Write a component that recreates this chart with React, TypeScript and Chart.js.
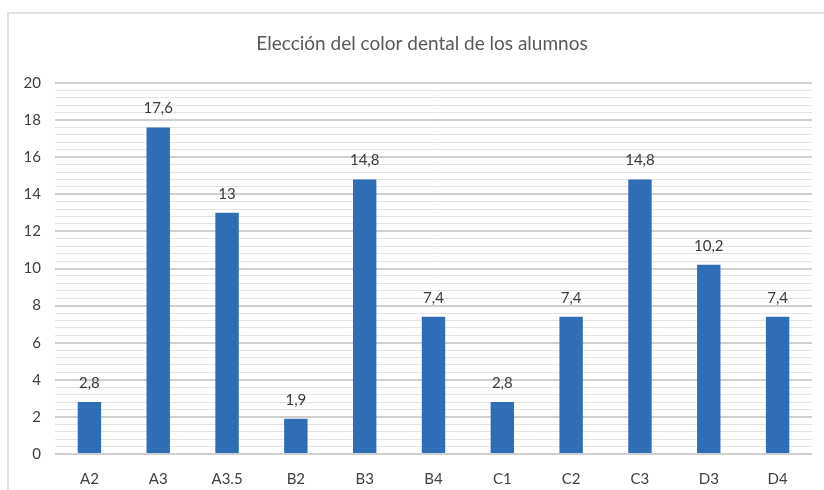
import React, { useEffect, useRef } from "react";
import { Chart, registerables } from "chart.js";

Chart.register(...registerables);

const titleText = "Elección del color dental de los alumnos";
const categories = ["A2", "A3", "A3.5", "B2", "B3", "B4", "C1", "C2", "C3", "D3", "D4"];
const values = [2.8, 17.6, 13, 1.9, 14.8, 7.4, 2.8, 7.4, 14.8, 10.2, 7.4];
const valueLabels = ["2,8", "17,6", "13", "1,9", "14,8", "7,4", "2,8", "7,4", "14,8", "10,2", "7,4"];
const yMax = 20;
const yMajorStep = 2;
const yMinorStep = 0.4;

const isMajor = (v: number) => Math.abs(v / yMajorStep - Math.round(v / yMajorStep)) < 1e-6;

const labelPlugin = {
  id: "valueLabels",
  afterDatasetsDraw(chart: any) {
    const ctx = chart.ctx;
    const meta = chart.getDatasetMeta(0);
    ctx.save();
    ctx.fillStyle = "#3a3a3a";
    ctx.font = "15px Lato";
    ctx.textAlign = "center";
    ctx.textBaseline = "middle";
    meta.data.forEach((bar: any, i: number) => {
      ctx.fillText(valueLabels[i], bar.x, bar.y - 19);
    });
    ctx.fillStyle = "#595959";
    ctx.font = "19px Lato";
    ctx.fillText(titleText, 422, 44);
    ctx.restore();
  },
};

export default function App() {
  const ref = useRef<HTMLCanvasElement | null>(null);
  useEffect(() => {
    if (!ref.current) return;
    const chart = new Chart(ref.current, {
      type: "bar",
      data: {
        labels: categories,
        datasets: [
          {
            data: values,
            backgroundColor: "#2F6DB5",
            categoryPercentage: 1,
            barPercentage: 0.34,
          },
        ],
      },
      plugins: [labelPlugin],
      options: {
        animation: false,
        responsive: true,
        maintainAspectRatio: false,
        layout: { padding: { left: 0, right: 12, top: 83, bottom: 0 } },
        plugins: {
          legend: { display: false },
          tooltip: { enabled: false },
          title: { display: false },
        },
        scales: {
          x: {
            grid: { display: false },
            border: { display: false },
            ticks: { color: "#404040", font: { family: "Lato", size: 15 }, padding: 8 },
            afterFit: (s: any) => {
              s.height = 36;
            },
          },
          y: {
            min: 0,
            max: yMax,
            border: { display: false },
            grid: {
              drawTicks: false,
              color: (c: any) => (isMajor(c.tick.value) ? "#cfcfcf" : "#e4e4e4"),
              lineWidth: (c: any) => (isMajor(c.tick.value) ? 2 : 1),
            },
            ticks: {
              stepSize: yMinorStep,
              autoSkip: false,
              color: "#404040",
              font: { family: "Lato", size: 15 },
              padding: 14,
              callback: (v: any) => (isMajor(Number(v)) ? String(Math.round(Number(v))) : ""),
            },
            afterFit: (s: any) => {
              s.width = 55;
            },
          },
        },
      },
    });
    return () => chart.destroy();
  }, []);
  return (
    <div style={{ position: "fixed", left: 0, top: 0, width: 824, height: 490, overflow: "hidden", background: "#fff" }}>
      <div
        style={{
          position: "absolute",
          left: 7,
          top: 12,
          width: 840,
          height: 500,
          border: "2px solid #e2e2e2",
        }}
      />
      <div style={{ position: "absolute", left: 0, top: 0, width: 824, height: 490 }}>
        <canvas ref={ref} />
      </div>
    </div>
  );
}
